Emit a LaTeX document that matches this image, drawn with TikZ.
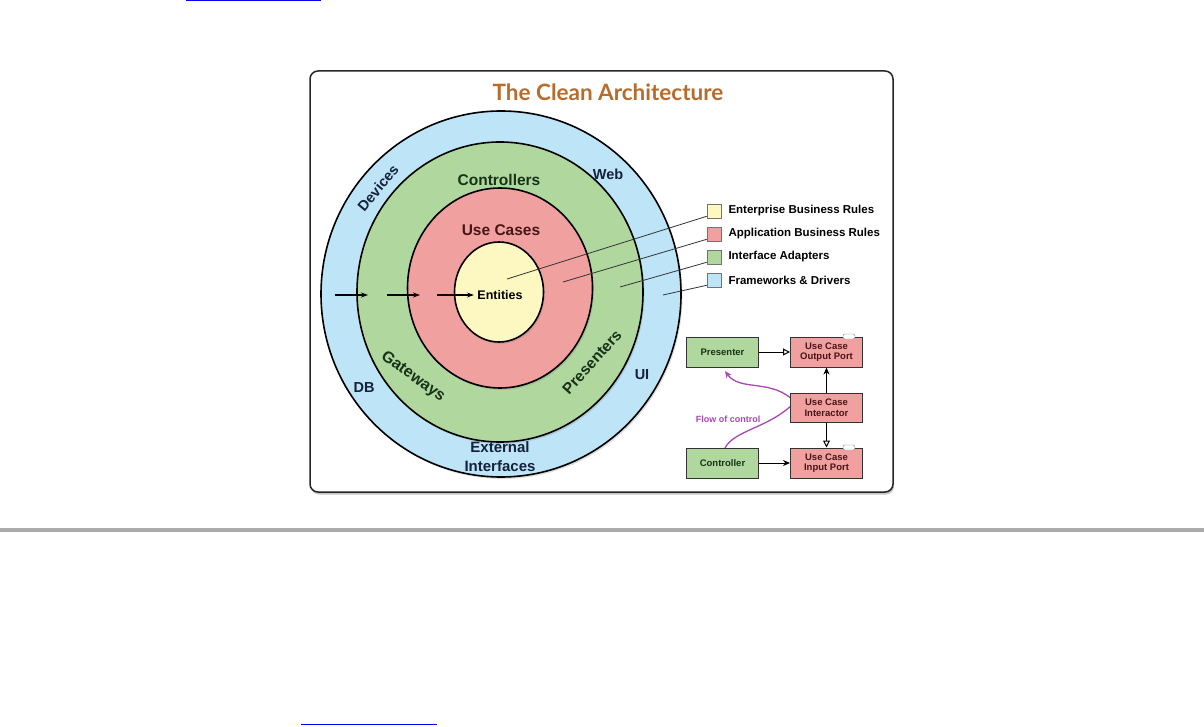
\documentclass[tikz,border=0pt]{standalone}
\usepackage{fontspec}
\setmainfont{Liberation Sans}
\newfontfamily\titlefont{Lato}
\usetikzlibrary{arrows.meta, shapes.geometric, shadows}
\definecolor{fwblue}{RGB}{190,228,247}
\definecolor{iagreen}{RGB}{176,216,158}
\definecolor{abrred}{RGB}{241,160,160}
\definecolor{ebryellow}{RGB}{253,248,193}
\definecolor{titlebrown}{RGB}{184,108,44}
\definecolor{flowpurple}{RGB}{168,72,178}
\definecolor{rulegray}{RGB}{170,170,172}
\definecolor{linkblue}{RGB}{0,0,238}
\definecolor{ctrltext}{RGB}{24,50,24}
\definecolor{uctext}{RGB}{72,22,22}
\definecolor{fwtext}{RGB}{20,34,58}
\tikzstyle{ring} = [ellipse, draw=black, line width=1.6pt, inner sep=0, drop shadow={opacity=0.25, shadow xshift=1.5pt, shadow yshift=-2pt}]
\tikzstyle{ringlabel} = [font=\bfseries\fontsize{15.5}{19}\selectfont, inner sep=1pt, align=center]
\tikzstyle{legendbox} = [rectangle, draw=black!55, line width=0.6pt, minimum size=14, inner sep=0]
\tikzstyle{legendtext} = [anchor=west, font=\bfseries\fontsize{11.5}{13}\selectfont, inner sep=0]
\tikzstyle{classbox} = [rectangle, draw=black!80, line width=1pt, minimum width=72, minimum height=30, align=center, font=\bfseries\fontsize{9.5}{10.5}\selectfont, inner sep=0]
\tikzstyle{tab} = [rectangle, rounded corners=2pt, draw=black!50, fill=white, minimum width=12, minimum height=5, inner sep=0]

\begin{document}
\begin{tikzpicture}[x=1pt, y=-1pt]

    \useasboundingbox (0,0) rectangle (1204,727);

    % Links and page rule
    \draw[linkblue, line width=1.5pt] (186,0.75) -- (321,0.75);
    \draw[linkblue, line width=1.5pt] (301,724.5) -- (437,724.5);
    \draw[rulegray, line width=4pt] (0,530) -- (1204,530);

    % Frame and title
    \node (frame) at (601.5,281.5) [rectangle, rounded corners=8pt, draw=black!85, line width=1.5pt, fill=white, minimum width=583, minimum height=421, drop shadow={opacity=0.45, shadow xshift=1pt, shadow yshift=-2.5pt}] {};
    \node (title) at (608,92) [font=\titlefont\bfseries\fontsize{22.5}{24}\selectfont, text=titlebrown] {The Clean Architecture};

    % Rings
    \node (fd-ring) at (501,294) [ring, fill=fwblue, minimum width=360, minimum height=366] {};
    \node (ia-ring) at (500,292) [ring, fill=iagreen, minimum width=286, minimum height=300] {};
    \node (abr-ring) at (500,288) [ring, fill=abrred, minimum width=185, minimum height=200] {};
    \node (ebr-ring) at (499,292) [ring, fill=ebryellow, minimum width=89, minimum height=100] {};

    % Ring labels
    \node (ctrl) at (499,180) [ringlabel, text=ctrltext] {Controllers};
    \node (uc) at (501,230) [ringlabel, text=uctext] {Use Cases};
    \node (ent) at (500,295) [font=\bfseries\fontsize{12.5}{14}\selectfont] {Entities};
    \node (web) at (608,174) [ringlabel, text=fwtext, font=\bfseries\fontsize{14.5}{16}\selectfont] {Web};
    \node (dev) at (378,188) [ringlabel, text=fwtext, rotate=50, font=\bfseries\fontsize{14.5}{16}\selectfont] {Devices};
    \node (db) at (364,388) [ringlabel, text=fwtext, font=\bfseries\fontsize{14.5}{16}\selectfont] {DB};
    \node (ui) at (642,375) [ringlabel, text=fwtext, font=\bfseries\fontsize{14.5}{16}\selectfont] {UI};
    \node (gw) at (413,377) [ringlabel, text=ctrltext, rotate=-36, font=\bfseries\fontsize{16}{18}\selectfont] {Gateways};
    \node (pres) at (592,362) [ringlabel, text=ctrltext, rotate=48] {Presenters};
    \node (ext) at (500,457) [ringlabel, text=fwtext, font=\bfseries\fontsize{15}{19}\selectfont] {External\\Interfaces};

    % Dependency arrows
    \coordinate (a1) at (335,295);
    \coordinate (b1) at (368,295);
    \coordinate (a2) at (387,295);
    \coordinate (b2) at (420,295);
    \coordinate (a3) at (437,295);
    \draw[line width=1.1pt, -{Stealth[length=7pt, width=5pt]}] (a1) -- (b1);
    \draw[line width=1.1pt, -{Stealth[length=7pt, width=5pt]}] (a2) -- (b2);
    \draw[line width=1.1pt, -{Stealth[length=7pt, width=5pt]}] (a3) -- (ent.west);

    % Legend
    \foreach \name/\col/\y/\txt in {ebr/ebryellow/211/Enterprise Business Rules, abr/abrred/234/Application Business Rules, ia/iagreen/257/Interface Adapters, fd/fwblue/280/Frameworks \& Drivers} {
        \node (\name) at (714,\y) [legendbox, fill=\col] {};
        \node (\name-txt) at ([xshift=7pt]\name.east) [legendtext] {\txt};
    }
    \coordinate (ebr-in) at (507,279);
    \coordinate (abr-in) at (563,282);
    \coordinate (ia-in) at (620,287);
    \coordinate (fd-in) at (663,295);
    \foreach \name in {ebr, abr, ia, fd}
        \draw[line width=0.8pt, black!80] ([yshift=2pt]\name.south west) -- (\name-in);

    % Flow of control
    \coordinate (flow-start) at (725,448);
    \coordinate (flow-end) at (725,371);
    \draw[flowpurple, line width=1.3pt, -{Stealth[length=7pt, width=6pt]}] (flow-start) .. controls (734,430) and (770,428) .. (795,402) .. controls (772,378) and (740,392) .. (flow-end);
    \node (flow-lbl) at (728,419) [text=flowpurple, font=\bfseries\fontsize{9}{10}\selectfont] {Flow of control};

    % Use case classes
    \node (presenter) at (722.5,352) [classbox, fill=iagreen, text=ctrltext] {Presenter};
    \node (outport) at (826.5,352) [classbox, fill=abrred, text=uctext] {Use Case\\Output Port};
    \node (interactor) at (826.5,407.5) [classbox, fill=abrred, text=uctext, minimum height=29] {Use Case\\Interactor};
    \node (controller) at (722.5,463) [classbox, fill=iagreen, text=ctrltext] {Controller};
    \node (inport) at (826.5,463) [classbox, fill=abrred, text=uctext] {Use Case\\Input Port};
    \node (outtab) at ([xshift=-14pt]outport.north east) [tab] {};
    \node (intab) at ([xshift=-14pt]inport.north east) [tab] {};

    \draw[line width=1pt, -{Triangle[open, length=7pt, width=7pt]}] (presenter) -- (outport);
    \draw[line width=1pt, -{Stealth[length=7pt, width=6pt]}] (interactor) -- (outport);
    \draw[line width=1pt, -{Triangle[open, length=7pt, width=7pt]}] (interactor) -- (inport);
    \draw[line width=1pt, -{Stealth[length=7pt, width=6pt]}] (controller) -- (inport);

\end{tikzpicture}
\end{document}
